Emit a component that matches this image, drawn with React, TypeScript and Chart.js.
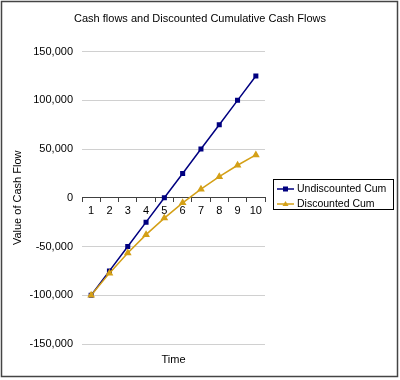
import React, { useEffect, useRef } from "react";
import { Chart, registerables } from "chart.js";

Chart.register(...registerables);

const FONT = "'Liberation Sans', Arial, sans-serif";

const titleText = "Cash flows and Discounted Cumulative Cash Flows";
const xAxisTitle = "Time";
const yAxisTitle = "Value of Cash Flow";
const timeLabels = ["1", "2", "3", "4", "5", "6", "7", "8", "9", "10"];
const undiscountedCum = [-100000, -75000, -50000, -25000, 0, 25000, 50000, 75000, 100000, 125000];
const discountedCum = [-100000, -77300, -56600, -37800, -20800, -5200, 8900, 21700, 33400, 44000];
const seriesNames = ["Undiscounted Cum", "Discounted Cum"];
const seriesColors = ["#000080", "#D4A017"];
const yMin = -150000;
const yMax = 150000;
const yStep = 50000;

const framePlugin = {
  id: "frame",
  beforeDraw(chart: any) {
    const ctx = chart.ctx;
    ctx.save();
    ctx.fillStyle = "#ffffff";
    ctx.fillRect(0, 0, chart.width, chart.height);
    ctx.restore();
  },
  afterDraw(chart: any) {
    const ctx = chart.ctx;
    ctx.save();
    ctx.strokeStyle = "#444444";
    ctx.lineWidth = 1.5;
    ctx.strokeRect(1.5, 1.5, chart.width - 4, chart.height - 5);
    ctx.restore();
  },
};

const legendPlugin = {
  id: "boxLegend",
  afterDraw(chart: any) {
    const ctx = chart.ctx;
    const ds = chart.data.datasets;
    const bx = chart.chartArea.right + 8.5;
    const by = 179.5;
    const bw = 120;
    const bh = 30;
    ctx.save();
    ctx.fillStyle = "#ffffff";
    ctx.fillRect(bx, by, bw, bh);
    ctx.strokeStyle = "#000000";
    ctx.lineWidth = 1;
    ctx.strokeRect(bx, by, bw, bh);
    ds.forEach((d: any, i: number) => {
      const y = by + 9.5 + i * 15;
      const x0 = bx + 3.5;
      const x1 = bx + 20.5;
      const mx = (x0 + x1) / 2;
      ctx.strokeStyle = d.borderColor;
      ctx.fillStyle = d.borderColor;
      ctx.lineWidth = 1.5;
      ctx.beginPath();
      ctx.moveTo(x0, y);
      ctx.lineTo(x1, y);
      ctx.stroke();
      if (d.pointStyle === "rect") {
        ctx.fillRect(mx - 2.5, y - 2.5, 5, 5);
      } else {
        ctx.beginPath();
        ctx.moveTo(mx, y - 3);
        ctx.lineTo(mx + 3, y + 2);
        ctx.lineTo(mx - 3, y + 2);
        ctx.closePath();
        ctx.fill();
      }
      ctx.fillStyle = "#000000";
      ctx.font = `10.5px ${FONT}`;
      ctx.textBaseline = "middle";
      ctx.textAlign = "left";
      ctx.fillText(d.label, bx + 23.5, y + 0.5);
    });
    ctx.restore();
  },
};

export default function App() {
  const ref = useRef<HTMLCanvasElement | null>(null);

  useEffect(() => {
    if (!ref.current) return;
    const chart = new Chart(ref.current, {
      type: "line",
      data: {
        labels: timeLabels,
        datasets: [
          {
            label: seriesNames[0],
            data: undiscountedCum,
            borderColor: seriesColors[0],
            backgroundColor: seriesColors[0],
            pointStyle: "rect",
            pointRadius: 2.5,
            pointHoverRadius: 2.5,
            borderWidth: 1.5,
            tension: 0,
            order: 2,
          },
          {
            label: seriesNames[1],
            data: discountedCum,
            borderColor: seriesColors[1],
            backgroundColor: seriesColors[1],
            pointStyle: "triangle",
            pointRadius: 3,
            pointHoverRadius: 3,
            borderWidth: 1.5,
            tension: 0,
            order: 1,
          },
        ],
      },
      options: {
        responsive: false,
        animation: false,
        layout: { padding: { left: 0, right: 0, top: 0, bottom: 11.4 } },
        plugins: {
          legend: { display: false },
          tooltip: { enabled: false },
          title: {
            display: true,
            text: titleText,
            color: "#000000",
            font: { family: FONT, size: 11, weight: "normal" },
            padding: { top: 12, bottom: 26.4 },
          },
        },
        scales: {
          x: {
            type: "category",
            position: { y: 0 } as any,
            offset: true,
            grid: {
              drawOnChartArea: false,
              drawTicks: true,
              tickLength: 4,
              color: "#404040",
              offset: true,
            },
            border: { display: true, color: "#404040", width: 1 },
            ticks: {
              color: "#000000",
              padding: 3,
              maxRotation: 0,
              autoSkip: false,
              font: { family: FONT, size: 11 },
            },
          },
          x2: {
            type: "category",
            position: "bottom",
            offset: true,
            grid: { display: false },
            border: { display: false },
            ticks: { display: false },
            title: {
              display: true,
              text: xAxisTitle,
              color: "#000000",
              font: { family: FONT, size: 11 },
              padding: { top: 1.4, bottom: 2 },
            },
          },
          y: {
            type: "linear",
            position: "left",
            min: yMin,
            max: yMax,
            grid: { color: "#d0d0d0", drawTicks: false },
            border: { display: false },
            ticks: {
              stepSize: yStep,
              padding: 9,
              color: "#000000",
              font: { family: FONT, size: 11 },
              callback: (v: any) => Number(v).toLocaleString("en-US"),
            },
            title: {
              display: true,
              text: yAxisTitle,
              color: "#000000",
              font: { family: FONT, size: 11 },
              padding: { top: 11.4, bottom: 0 },
            },
            afterFit: (s: any) => {
              s.width = 82;
            },
          },
          yRight: {
            type: "linear",
            position: "right",
            grid: { display: false },
            border: { display: false },
            ticks: { display: false },
            afterFit: (s: any) => {
              s.width = 135;
            },
          },
        },
      },
      plugins: [framePlugin, legendPlugin],
    });
    return () => chart.destroy();
  }, []);

  return (
    <div style={{ position: "absolute", left: 0, top: 0, width: 400, height: 380 }}>
      <canvas ref={ref} width={400} height={380} />
    </div>
  );
}
